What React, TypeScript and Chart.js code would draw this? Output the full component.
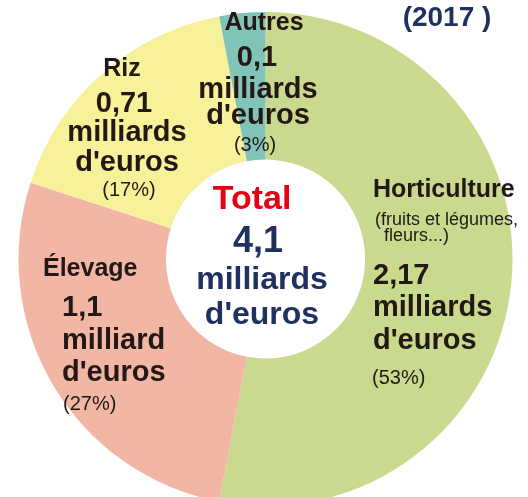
import React, { useEffect, useRef } from "react";
import { Chart, registerables } from "chart.js";

Chart.register(...registerables);

// ---- data ----
const categories = ["Horticulture", "Élevage", "Riz", "Autres"];
const valuesBn = [2.17, 1.1, 0.71, 0.1];
const sharesPct = [53, 27, 17, 3];
const unitLabels = ["milliards", "milliard", "milliards", "milliards"];
const horticultureNote = ["(fruits et légumes,", "fleurs...)"];
const totalBn = 4.1;
const totalLabel = "Total";
const yearLabel = "(2017 )";

// ---- styles ----
const colors = ["#C9DA8E", "#F1B6A4", "#F7F19A", "#80C4B7"];
const DARK = "#231815";
const RED = "#E50012";
const NAVY = "#1E3160";
const FAM = '"Liberation Sans", Arial, sans-serif';
const bold = (s: number) => `bold ${s}px ${FAM}`;
const reg = (s: number) => `${s}px ${FAM}`;
const fmt = (v: number) => String(v).replace(".", ",");

const CX0 = 265.5;
const CY0 = 258.5;

type Line = { t: string; font: string; color: string; x: number; y: number; align: CanvasTextAlign };

function buildLines(): Line[] {
  const L: Line[] = [];
  const c = (t: string, font: string, color: string, x: number, y: number) =>
    L.push({ t, font, color, x, y, align: "center" });
  const l = (t: string, font: string, color: string, x: number, y: number) =>
    L.push({ t, font, color, x, y, align: "left" });

  // Horticulture (index 0)
  l(categories[0], bold(25), DARK, 373, 196);
  l(horticultureNote[0], reg(18), DARK, 375, 224);
  l(horticultureNote[1], reg(18), DARK, 384, 240);
  l(fmt(valuesBn[0]), bold(29), DARK, 373, 283);
  l(unitLabels[0], bold(29), DARK, 373, 315);
  l("d'euros", bold(29), DARK, 373, 348);
  l(`(${sharesPct[0]}%)`, reg(20), DARK, 372, 383);

  // Élevage (index 1)
  l(categories[1], bold(25), DARK, 43, 275);
  l(fmt(valuesBn[1]), bold(29), DARK, 62, 315);
  l(unitLabels[1], bold(29), DARK, 62, 348);
  l("d'euros", bold(29), DARK, 62, 380);
  l(`(${sharesPct[1]}%)`, reg(20), DARK, 63, 409);

  // Riz (index 2)
  c(categories[2], bold(25), DARK, 122, 75);
  c(fmt(valuesBn[2]), bold(29), DARK, 124, 111);
  c(unitLabels[2], bold(29), DARK, 127, 140);
  c("d'euros", bold(29), DARK, 127, 170);
  c(`(${sharesPct[2]}%)`, reg(20), DARK, 129, 195);

  // Autres (index 3)
  c(categories[3], bold(25), DARK, 264, 29);
  c(fmt(valuesBn[3]), bold(29), DARK, 257, 65);
  c(unitLabels[3], bold(29), DARK, 258, 97);
  c("d'euros", bold(29), DARK, 258, 123);
  c(`(${sharesPct[3]}%)`, reg(20), DARK, 255, 150);

  // Centre
  c(totalLabel, bold(34), RED, 252, 208);
  c(fmt(totalBn), bold(36), NAVY, 258, 251);
  c("milliards", bold(32), NAVY, 262, 288);
  c("d'euros", bold(32), NAVY, 262, 323);

  // Year
  c(yearLabel, bold(28), NAVY, 447, 25);
  return L;
}

const labelPlugin = {
  id: "ringLabels",
  afterDatasetsDraw(chart: any) {
    const arc = chart.getDatasetMeta(0).data[0];
    if (!arc) return;
    const dx = arc.x - CX0;
    const dy = arc.y - CY0;
    const ctx = chart.ctx as CanvasRenderingContext2D;
    ctx.save();
    ctx.textBaseline = "alphabetic";
    for (const ln of buildLines()) {
      ctx.font = ln.font;
      ctx.fillStyle = ln.color;
      ctx.textAlign = ln.align;
      ctx.fillText(ln.t, ln.x + dx, ln.y + dy);
    }
    ctx.restore();
  },
};

export default function App() {
  const ref = useRef<HTMLCanvasElement | null>(null);
  useEffect(() => {
    if (!ref.current) return;
    const chart = new Chart(ref.current, {
      type: "doughnut",
      data: {
        labels: categories,
        datasets: [
          {
            data: sharesPct,
            backgroundColor: colors,
            borderWidth: 0,
            clip: false as any,
          },
        ],
      },
      options: {
        responsive: false,
        animation: false,
        radius: 247,
        cutout: "40.3%",
        rotation: 0,
        layout: { padding: { left: 3, top: 21, right: 0, bottom: 0 } },
        plugins: {
          legend: { display: false },
          tooltip: { enabled: false },
          title: { display: false },
        },
      },
      plugins: [labelPlugin],
    });
    return () => chart.destroy();
  }, []);
  return (
    <div style={{ position: "fixed", left: 0, top: 0, width: 528, height: 497, background: "#fff", overflow: "hidden" }}>
      <canvas ref={ref} width={528} height={497} style={{ width: 528, height: 497, display: "block" }} />
    </div>
  );
}
